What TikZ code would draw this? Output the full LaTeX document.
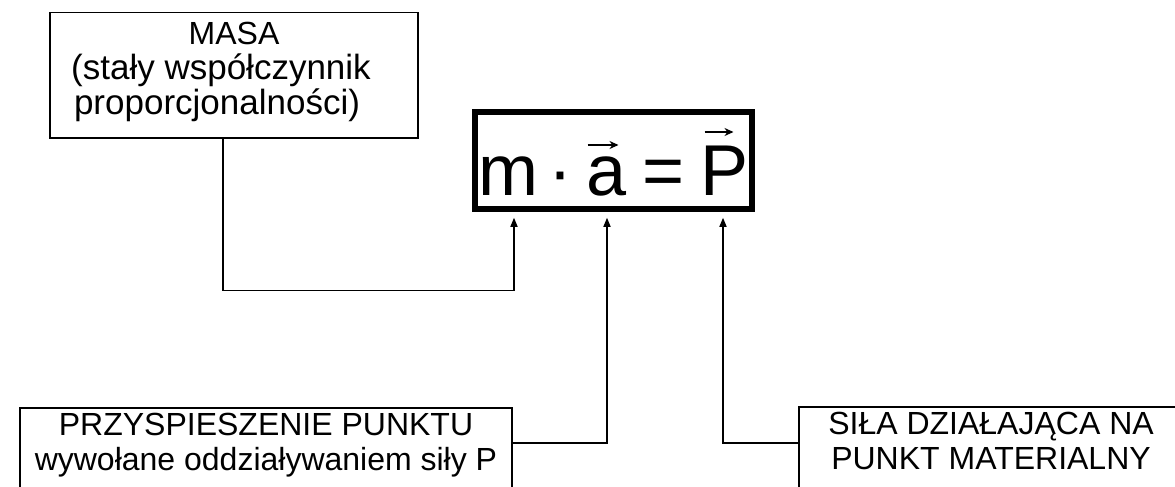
\documentclass[tikz,border=0pt]{standalone}
\usepackage{fontspec}
\setmainfont{Liberation Sans}
\usetikzlibrary{arrows.meta, positioning, calc}

\tikzset{
    opis/.style={draw, line width=1.5pt, align=center, inner xsep=0pt,
        font=\fontsize{32}{35}\selectfont},
    wzor/.style={draw, line width=5.5pt, inner sep=0pt,
        font=\fontsize{72}{80}\selectfont},
    strzalka/.style={line width=1.5pt, -{Triangle[length=9pt,width=7pt]}, shorten >=6pt},
    wektor/.style={line width=2.2pt, -{Stealth[length=9pt,width=8pt]}},
}
\newcommand{\wiekszy}{\fontsize{35}{35}\selectfont}

\begin{document}
\begin{tikzpicture}[x=1pt, y=1pt]
        \useasboundingbox (0,0) rectangle (1175,-487);
        \clip (0,0) rectangle (1175,-487);

        % Wzor glowny
        \node[wzor, minimum width=277pt, text height=83pt, text depth=14pt] (wzor) at (613.5,-160.5)
            {m\kern10pt·\kern14pt a\kern16pt=\kern16pt P};
        % strzalki wektorow
        \draw[wektor] ($(wzor.center)+(-26,15.5)$) -- ++(31,0);
        \draw[wektor] ($(wzor.center)+(91,28.5)$) -- ++(29,0);

        % Opisy
        \node[opis, minimum width=368pt, inner ysep=9.7pt, text depth=13.3pt, anchor=north] (masa) at (234,-12)
            {MASA\\\wiekszy(stały współczynnik\kern26pt\relax\\\wiekszy proporcjonalności)\kern34pt\relax};
        \node[opis, minimum width=492pt, inner ysep=5pt, text depth=30pt, anchor=north] (przysp) at (266,-407)
            {PRZYSPIESZENIE PUNKTU\\wywołane oddziaływaniem siły P};
        \node[opis, minimum width=384pt, inner ysep=5pt, text depth=30pt, anchor=north] (sila) at (991,-406)
            {SIŁA DZIAŁAJĄCA NA\\PUNKT MATERIALNY};

        % Strzalki
        \draw[strzalka] ([xshift=-11pt]masa.south) -- ++(0,-152) -| ([xshift=-99.5pt]wzor.south);
        \draw[strzalka] ([yshift=-36pt]przysp.north east) -| ([xshift=-6.5pt]wzor.south);
        \draw[strzalka] ([yshift=-37pt]sila.north west) -| ([xshift=109.5pt]wzor.south);
\end{tikzpicture}
\end{document}
